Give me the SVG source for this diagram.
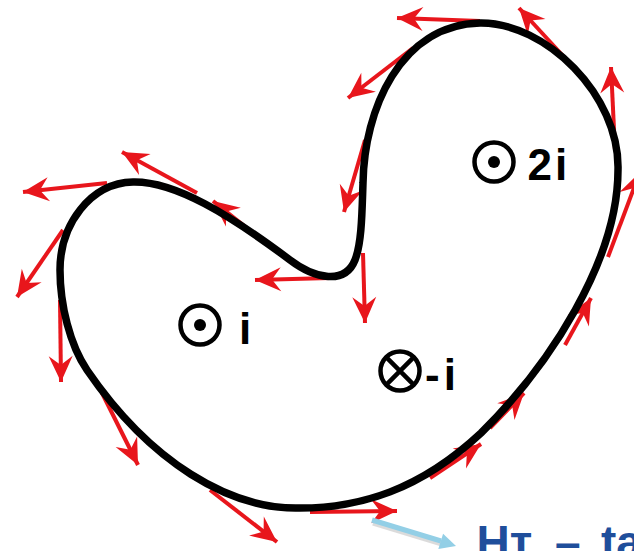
<svg xmlns="http://www.w3.org/2000/svg" width="634" height="551" viewBox="0 0 634 551">
  <defs>
    <marker id="rh" markerUnits="userSpaceOnUse" viewBox="-27 -13 28 26" markerWidth="28" markerHeight="26" refX="0" refY="0" orient="auto">
      <path d="M0,0 L-26,-12 L-17,0 L-26,12 Z" fill="#e8161c"/>
    </marker>
  </defs>
  <style>
    .ar { stroke: #e8161c; stroke-width: 4; fill: none; marker-end: url(#rh); }
    .loop { fill: none; stroke: #000; stroke-width: 7.5; stroke-linejoin: round; }
    .sym { fill: none; stroke: #000; stroke-width: 4.5; }
    .lbl { font-family: "Liberation Sans", Arial, sans-serif; font-weight: bold; font-size: 44px; fill: #000; }
    .blue { font-family: "Liberation Sans", Arial, sans-serif; font-weight: bold; font-size: 46px; fill: #1f4e9b; }
  </style>
  <rect width="634" height="551" fill="#fff"/>

  <g id="connectors">
    <line class="ar" x1="107" y1="183" x2="23" y2="192"/>
    <line class="ar" x1="197" y1="193" x2="122" y2="152"/>
    <line class="ar" x1="262" y1="240" x2="213" y2="201"/>
    <line class="ar" x1="63" y1="230" x2="17" y2="297"/>
    <line class="ar" x1="60" y1="300" x2="61" y2="382"/>
    <line class="ar" x1="102" y1="393" x2="138" y2="465"/>
    <line class="ar" x1="210" y1="490" x2="277" y2="542"/>
    <line class="ar" x1="310" y1="512" x2="397" y2="511"/>
    <line class="ar" x1="430" y1="478" x2="481" y2="444"/>
    <line class="ar" x1="490" y1="428" x2="524" y2="393"/>
    <line class="ar" x1="565" y1="345" x2="591" y2="298"/>
    <line class="ar" x1="608" y1="257" x2="640" y2="172"/>
    <line class="ar" x1="615" y1="150" x2="611" y2="67"/>
    <line class="ar" x1="576" y1="70" x2="519" y2="8"/>
    <line class="ar" x1="480" y1="21" x2="397" y2="18"/>
    <line class="ar" x1="413" y1="48" x2="348" y2="98"/>
    <line class="ar" x1="365" y1="140" x2="344" y2="212"/>
    <line class="ar" x1="330" y1="278" x2="255" y2="280"/>
    <line class="ar" x1="363" y1="253" x2="365" y2="323"/>
  </g>

  <g id="loop">
    <path class="loop" d="M480,23 C545,22 620,95 618,170 C618,260 550,365 481,433 C420,490 360,508 300,508 C230,510 150,462 87,370 C70,345 60,305 60,270 C60,225 90,183 133,182 C175,181 230,215 290,260 C315,279 345,285 355,260 C362,242 362,210 363,183 C364,110 400,25 480,23 Z"/>
  </g>

  <g id="node-i">
    <circle class="sym" cx="200" cy="325" r="19.5"/>
    <circle cx="200" cy="325" r="6" fill="#000"/>
    <text class="lbl" x="239" y="344">i</text>
  </g>

  <g id="node-2i">
    <circle class="sym" cx="494" cy="162" r="19.5"/>
    <circle cx="494" cy="162" r="6" fill="#000"/>
    <text class="lbl" x="527.5" y="180" letter-spacing="3">2i</text>
  </g>

  <g id="node-minus-i">
    <circle class="sym" cx="400" cy="371" r="19.5"/>
    <path class="sym" d="M386.2,357.2 L413.8,384.8 M413.8,357.2 L386.2,384.8"/>
    <text class="lbl" x="425" y="390" letter-spacing="4">-i</text>
  </g>

  <g id="pointer">
    <line x1="373" y1="523" x2="442" y2="544" stroke="#999" stroke-opacity="0.35" stroke-width="5"/>
    <line x1="372" y1="520" x2="441" y2="541" stroke="#93cfe6" stroke-width="5"/>
    <polygon points="456,546 443.1,533.7 438.3,548.9" fill="#93cfe6"/>
  </g>

  <g id="caption">
    <text class="blue" y="558"><tspan x="476.6">Hт </tspan><tspan x="555">– </tspan><tspan x="601">ta</tspan></text>
  </g>
</svg>
